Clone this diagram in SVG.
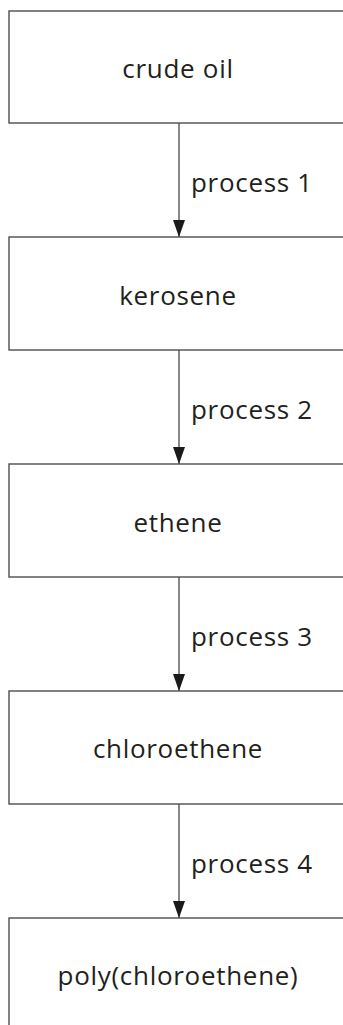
<svg xmlns="http://www.w3.org/2000/svg" width="343" height="1025" viewBox="0 0 343 1025">
<style>
.box{fill:#fff;stroke:#4d4d4d;stroke-width:1.4}
.t{font-family:"Open Sans","Liberation Sans",sans-serif;font-size:26px;letter-spacing:0.7px;fill:#231f20;text-anchor:middle}
.lbl{font-family:"Open Sans","Liberation Sans",sans-serif;font-size:26px;letter-spacing:0.7px;fill:#231f20}
.con{stroke:#555;stroke-width:1.4;fill:none}
</style>
<defs>
<marker id="ah" markerWidth="17" markerHeight="12" refX="17" refY="6" orient="auto" markerUnits="userSpaceOnUse" viewBox="0 0 17 12">
<path d="M0,0 L17,6 L0,12 Z" fill="#1a1a1a"/>
</marker>
</defs>
<rect x="0" y="0" width="343" height="1025" fill="#fff"/>
<g id="connectors">
<line class="con" x1="179" y1="123" x2="179" y2="237" marker-end="url(#ah)"/>
<line class="con" x1="179" y1="350" x2="179" y2="464" marker-end="url(#ah)"/>
<line class="con" x1="179" y1="577" x2="179" y2="691" marker-end="url(#ah)"/>
<line class="con" x1="179" y1="804" x2="179" y2="918" marker-end="url(#ah)"/>
<text class="lbl" x="191" y="192">process 1</text>
<text class="lbl" x="191" y="419">process 2</text>
<text class="lbl" x="191" y="646">process 3</text>
<text class="lbl" x="191" y="873">process 4</text>
</g>
<g id="n1"><rect class="box" x="9" y="11" width="340" height="112"/><text class="t" x="178" y="78">crude oil</text></g>
<g id="n2"><rect class="box" x="9" y="237" width="340" height="113"/><text class="t" x="178" y="305">kerosene</text></g>
<g id="n3"><rect class="box" x="9" y="464" width="340" height="113"/><text class="t" x="178" y="532">ethene</text></g>
<g id="n4"><rect class="box" x="9" y="691" width="340" height="113"/><text class="t" x="178" y="758">chloroethene</text></g>
<g id="n5"><rect class="box" x="9" y="918" width="340" height="113"/><text class="t" x="178" y="985">poly(chloroethene)</text></g>
</svg>
